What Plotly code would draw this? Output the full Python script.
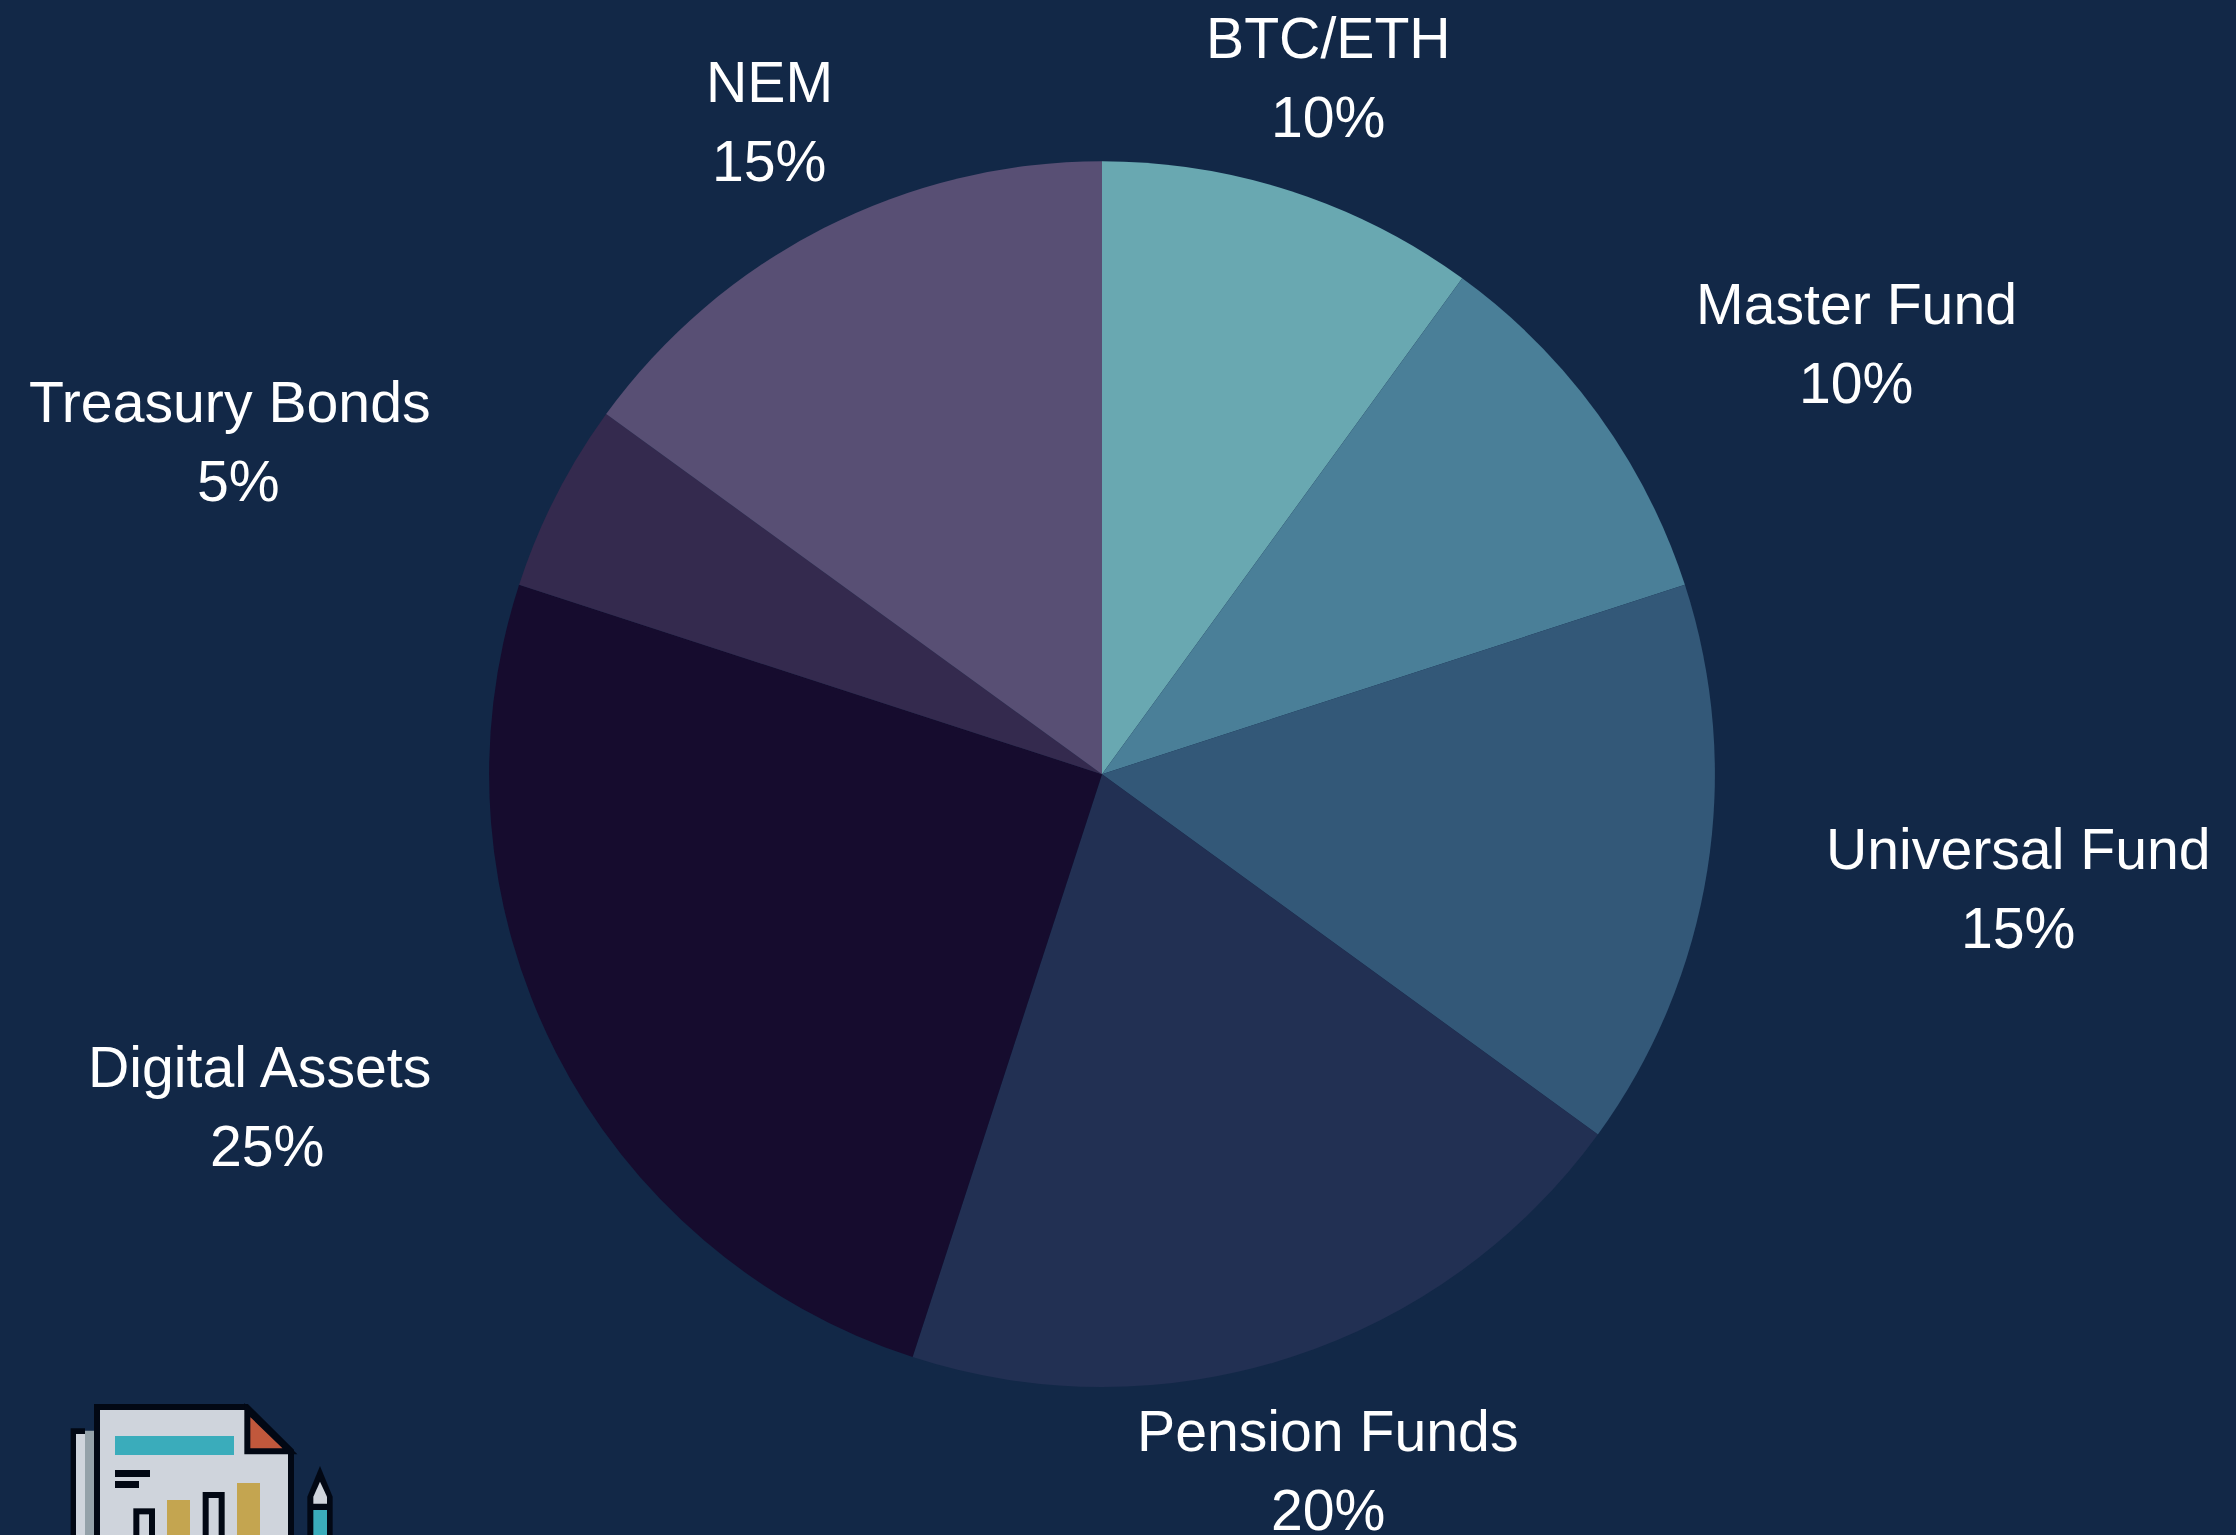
import plotly.graph_objects as go

categories = ["BTC/ETH", "Master Fund", "Universal Fund", "Pension Funds", "Digital Assets", "Treasury Bonds", "NEM"]
values = [10, 10, 15, 20, 25, 5, 15]
colors = ["#69a8b1", "#4a7f98", "#335878", "#223053", "#160c2e", "#342a4e", "#584f74"]

W, H = 2236, 1535
BG = "#122847"
CX, CY, R = 1102.0, 774.2, 612.9
FONT = "Liberation Sans"
FS = 57.2

# label centre positions in page pixels: (name x, name y, percent x, percent y)
label_pos = [
    (1328, 38, 1328, 117),
    (1856, 304, 1856, 383),
    (2018, 849, 2018, 928),
    (1328, 1431, 1328, 1510),
    (259, 1067, 267, 1146),
    (230, 402, 238, 481),
    (769, 82, 769, 161),
]

def px(x): return x / W
def py(y): return 1 - y / H

fig = go.Figure(go.Pie(
    labels=categories, values=values, sort=False, direction="clockwise", rotation=0,
    marker=dict(colors=colors, line=dict(width=0)),
    textinfo="none", hoverinfo="label+percent", showlegend=False,
    domain=dict(x=[px(CX - R), px(CX + R)], y=[py(CY + R), py(CY - R)]),
))

annotations = []
for name, v, (nx, ny, vx, vy) in zip(categories, values, label_pos):
    for text, x, y in ((name, nx, ny), (f"{v}%", vx, vy)):
        annotations.append(dict(
            text=text, x=px(x), y=py(y), xref="paper", yref="paper",
            xanchor="center", yanchor="middle", showarrow=False,
            font=dict(family=FONT, size=FS, color="#ffffff"),
        ))

# icon, drawn from zoomed-crop coordinates
def zx(v): return px(40 + v / 3)
def zy(v): return py(1380 + v / 3)
def poly(points, fill="rgba(0,0,0,0)", line=None, lw=0, close=True):
    d = "M " + " L ".join(f"{zx(a)},{zy(b)}" for a, b in points) + (" Z" if close else "")
    return dict(type="path", path=d, xref="paper", yref="paper", fillcolor=fill,
                line=dict(color=line or "rgba(0,0,0,0)", width=lw))
def rect(x0, y0, x1, y1, fill):
    return poly([(x0, y0), (x1, y0), (x1, y1), (x0, y1)], fill=fill)

INK, PAGE = "#020814", "#cfd4dc"
B = 490
shapes = [
    rect(92, 145, 135, B, INK),
    rect(108, 162, 135, B, PAGE),
    rect(135, 152, 170, B, "#94a1a9"),
    poly([(171, 81), (620, 81), (753, 213), (753, B), (171, B)], fill=PAGE, line=INK, lw=6),
    poly([(622, 90), (622, 214), (750, 214)], fill="#c1583c", line=INK, lw=6),
    rect(225, 168, 582, 225, "#3aacbb"),
    rect(225, 270, 330, 291, INK),
    rect(225, 303, 297, 324, INK),
    rect(280, 385, 345, B, INK), rect(298, 403, 327, B, PAGE),
    rect(381, 360, 450, B, "#c4a550"),
    rect(488, 336, 554, B, INK), rect(506, 354, 536, B, PAGE),
    rect(591, 309, 660, B, "#c4a550"),
    poly([(840, 258), (878, 350), (878, B), (802, B), (802, 350)], fill=INK),
    poly([(840, 305), (861, 350), (861, 371), (820, 371), (820, 350)], fill=PAGE),
    rect(820, 390, 861, B, "#3aacbb"),
]

fig.update_layout(
    width=W, height=H, margin=dict(l=0, r=0, t=0, b=0),
    paper_bgcolor=BG, plot_bgcolor=BG,
    annotations=annotations, shapes=shapes, showlegend=False,
)
fig.write_html("out.html", config=dict(displayModeBar=False),
               post_script="document.body.style.margin='0';document.body.style.background='%s';document.body.style.overflow='hidden';" % BG)
